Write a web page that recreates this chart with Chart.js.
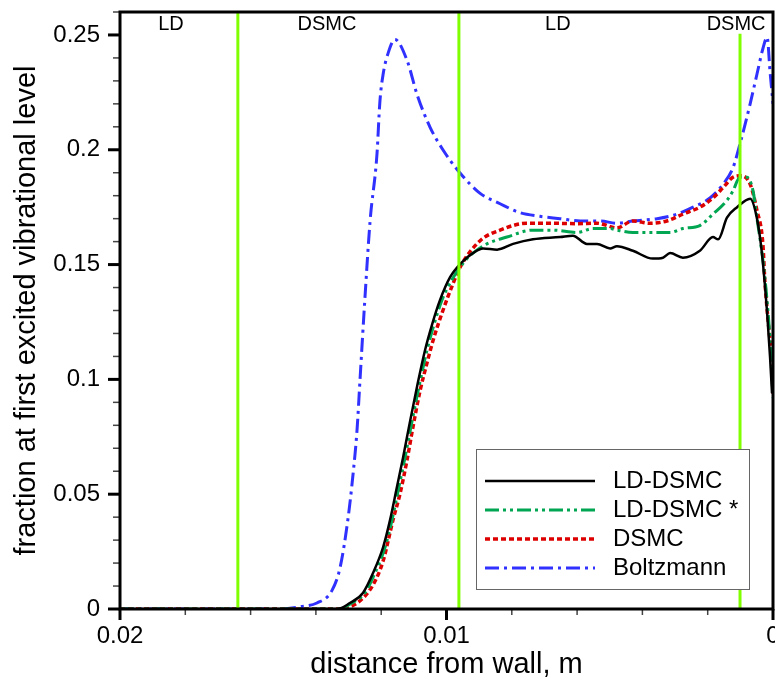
<!DOCTYPE html>
<html>
<head>
<meta charset="utf-8">
<script src="https://cdn.jsdelivr.net/npm/chart.js@4.4.1/dist/chart.umd.min.js"></script>
<style>
  html, body { margin: 0; padding: 0; background: #fff; }
</style>
</head>
<body>
<canvas id="fractionChart" width="775" height="683"></canvas>
<script>
// distance from wall (m) -> fraction at first excited vibrational level
const ldDsmcX = [0.02, 0.01335, 0.01296, 0.01256, 0.01225, 0.01194, 0.01173, 0.01152, 0.01133, 0.01112, 0.0109, 0.01066, 0.01044, 0.0102, 0.00989, 0.00953, 0.00919, 0.00888, 0.00845, 0.00796, 0.00735, 0.00652, 0.00613, 0.0057, 0.00539, 0.00499, 0.00478, 0.00429, 0.00368, 0.00337, 0.00315, 0.00276, 0.00224, 0.00184, 0.00168, 0.00141, 0.0011, 0.0007, 0.00049, 0.00034, 0.00018, 0.00009, 0.00003];
const ldDsmcY = [0, 0, 0.0026, 0.007, 0.0157, 0.027, 0.0387, 0.053, 0.066, 0.0815, 0.097, 0.1126, 0.124, 0.1345, 0.1445, 0.151, 0.155, 0.157, 0.1565, 0.159, 0.161, 0.162, 0.1626, 0.159, 0.159, 0.157, 0.158, 0.156, 0.1526, 0.153, 0.155, 0.153, 0.156, 0.162, 0.161, 0.1704, 0.175, 0.1787, 0.17, 0.155, 0.129, 0.1096, 0.094];

const ldDsmcStarX = [0.02, 0.0133, 0.0129, 0.0125, 0.01219, 0.01188, 0.01167, 0.01146, 0.01127, 0.01106, 0.01084, 0.0106, 0.01038, 0.01014, 0.00983, 0.00947, 0.00919, 0.00876, 0.00815, 0.00735, 0.00674, 0.006, 0.00551, 0.00499, 0.00478, 0.00429, 0.00377, 0.00315, 0.00276, 0.00224, 0.00184, 0.00141, 0.00123, 0.00101, 0.0008, 0.00061, 0.00049, 0.00031, 0.00018, 0.00009, 0.00003, 0];
const ldDsmcStarY = [0, 0, 0.0026, 0.007, 0.0157, 0.027, 0.0387, 0.053, 0.066, 0.0815, 0.097, 0.1126, 0.124, 0.1345, 0.1435, 0.151, 0.155, 0.159, 0.162, 0.165, 0.165, 0.164, 0.1657, 0.1657, 0.165, 0.164, 0.164, 0.164, 0.1657, 0.167, 0.172, 0.178, 0.182, 0.188, 0.188, 0.182, 0.17, 0.152, 0.134, 0.117, 0.1, 0.092];

const dsmcX = [0.02, 0.01335, 0.01274, 0.01225, 0.01194, 0.01164, 0.01142, 0.01121, 0.01103, 0.01081, 0.0106, 0.01041, 0.01011, 0.0098, 0.00959, 0.00897, 0.00836, 0.00753, 0.00674, 0.006, 0.00539, 0.00478, 0.00429, 0.00377, 0.00325, 0.00276, 0.00224, 0.00184, 0.00153, 0.00123, 0.00101, 0.0007, 0.00049, 0.00031, 0.00025, 0.00012, 0.00003, 0];
const dsmcY = [0, 0, 0.0026, 0.0105, 0.021, 0.0387, 0.0504, 0.0648, 0.079, 0.095, 0.107, 0.117, 0.13, 0.1417, 0.1487, 0.1604, 0.165, 0.168, 0.168, 0.1678, 0.168, 0.166, 0.169, 0.168, 0.169, 0.172, 0.175, 0.179, 0.1835, 0.188, 0.1887, 0.185, 0.1735, 0.159, 0.143, 0.121, 0.107, 0.093];

const boltzmannX = [0.02, 0.0151, 0.01449, 0.01397, 0.01351, 0.01326, 0.01302, 0.01286, 0.01274, 0.01265, 0.0125, 0.01234, 0.01213, 0.01204, 0.01194, 0.01179, 0.01158, 0.01121, 0.0109, 0.01051, 0.01011, 0.00965, 0.00897, 0.00836, 0.00775, 0.00714, 0.00652, 0.00591, 0.0053, 0.00478, 0.00429, 0.00355, 0.00294, 0.00245, 0.00193, 0.00153, 0.00123, 0.00101, 0.0007, 0.00049, 0.00031, 0.00018, 0.00009, 0];
const boltzmannY = [0, 0, 0.001, 0.0026, 0.008, 0.018, 0.039, 0.059, 0.078, 0.0996, 0.135, 0.169, 0.198, 0.221, 0.233, 0.242, 0.248, 0.239, 0.224, 0.21, 0.2, 0.191, 0.181, 0.1765, 0.1726, 0.171, 0.17, 0.169, 0.169, 0.168, 0.169, 0.17, 0.172, 0.175, 0.179, 0.185, 0.192, 0.2026, 0.22, 0.233, 0.244, 0.249, 0.234, 0.22];

// LD / DSMC zone boundaries and labels
const zoneEdges = [0.01639, 0.00962, 0.00101];
const zoneEdgeTops = [0.26, 0.26, 0.2505];
const zoneNames = ['LD', 'DSMC', 'LD', 'DSMC'];
const zoneNameX = [0.01844, 0.01366, 0.00659, 0.00113];

// tick labels
const xTickValues = [0.02, 0.01, 0];
const xTickLabels = ['0.02', '0.01', '0'];
const yTickValues = [0, 0.05, 0.1, 0.15, 0.2, 0.25];
const yTickLabels = ['0', '0.05', '0.1', '0.15', '0.2', '0.25'];

const FONT = '"Liberation Sans", Arial, sans-serif';

function pts(xs, ys) {
    return xs.map((x, i) => ({ x: x, y: ys[i] }));
}

function majorIndex(values, v) {
    return values.findIndex(m => Math.abs(m - v) < 1e-7);
}

document.addEventListener("DOMContentLoaded", function () {
    // ===============================
    // zone lines + names
    // ===============================
    const zonePlugin = {
        id: 'zones',
        afterDatasetsDraw(chart) {
            const { ctx, chartArea, scales } = chart;
            ctx.save();
            ctx.strokeStyle = '#80ff00';
            ctx.lineWidth = 3;
            zoneEdges.forEach((x, i) => {
                const px = scales.x.getPixelForValue(x);
                ctx.beginPath();
                ctx.moveTo(px, scales.y.getPixelForValue(0));
                ctx.lineTo(px, scales.y.getPixelForValue(zoneEdgeTops[i]));
                ctx.stroke();
            });
            ctx.fillStyle = '#000';
            ctx.font = '20px ' + FONT;
            ctx.textAlign = 'center';
            ctx.textBaseline = 'middle';
            zoneNames.forEach((name, i) => {
                ctx.fillText(name, scales.x.getPixelForValue(zoneNameX[i]), chartArea.top + 12);
            });
            ctx.restore();
        }
    };

    // ===============================
    // frame + major/minor tick marks
    // ===============================
    const framePlugin = {
        id: 'frame',
        afterDatasetsDraw(chart) {
            const { ctx, chartArea, scales } = chart;
            ctx.save();
            scales.x.ticks.forEach(t => {
                const px = scales.x.getPixelForValue(t.value);
                const major = majorIndex(xTickValues, t.value) >= 0;
                ctx.beginPath();
                ctx.lineWidth = major ? 3 : 1.5;
                ctx.strokeStyle = major ? '#000' : '#444';
                ctx.moveTo(px, chartArea.bottom);
                ctx.lineTo(px, chartArea.bottom + (major ? 11 : 6));
                ctx.stroke();
            });
            scales.y.ticks.forEach(t => {
                const py = scales.y.getPixelForValue(t.value);
                const major = majorIndex(yTickValues, t.value) >= 0;
                ctx.beginPath();
                ctx.lineWidth = major ? 3 : 1.5;
                ctx.strokeStyle = major ? '#000' : '#444';
                ctx.moveTo(chartArea.left, py);
                ctx.lineTo(chartArea.left - (major ? 12 : 7), py);
                ctx.stroke();
            });
            ctx.strokeStyle = '#000';
            ctx.lineWidth = 3;
            ctx.strokeRect(chartArea.left, chartArea.top, chartArea.right - chartArea.left, chartArea.bottom - chartArea.top);
            ctx.restore();
        }
    };

    // ===============================
    // boxed legend, lower right
    // ===============================
    const legendPlugin = {
        id: 'boxLegend',
        afterDraw(chart) {
            const ctx = chart.ctx;
            const bx = 476, by = 449, bw = 273, bh = 140;
            ctx.save();
            ctx.fillStyle = '#fff';
            ctx.fillRect(bx, by, bw, bh);
            ctx.strokeStyle = '#666';
            ctx.lineWidth = 1;
            ctx.strokeRect(bx + 0.5, by + 0.5, bw, bh);
            chart.data.datasets.forEach((ds, i) => {
                const y = by + 32 + i * 29;
                ctx.beginPath();
                ctx.setLineDash(ds.borderDash || []);
                ctx.lineWidth = ds.borderWidth;
                ctx.strokeStyle = ds.borderColor;
                ctx.moveTo(bx + 9, y);
                ctx.lineTo(bx + 119, y);
                ctx.stroke();
                ctx.setLineDash([]);
                ctx.fillStyle = '#000';
                ctx.font = '24px ' + FONT;
                ctx.textBaseline = 'middle';
                ctx.fillText(ds.label, bx + 137, y);
            });
            ctx.restore();
        }
    };

    const ctx = document.getElementById('fractionChart');
    new Chart(ctx.getContext('2d'), {
        type: 'line',
        data: {
            datasets: [{
                label: 'LD-DSMC',
                data: pts(ldDsmcX, ldDsmcY),
                borderColor: '#000000',
                borderWidth: 2.5
            }, {
                label: 'LD-DSMC *',
                data: pts(ldDsmcStarX, ldDsmcStarY),
                borderColor: '#00a651',
                borderWidth: 3,
                borderDash: [14, 4, 3, 4, 3, 4]
            }, {
                label: 'DSMC',
                data: pts(dsmcX, dsmcY),
                borderColor: '#dd0000',
                borderWidth: 3.5,
                borderDash: [5, 3]
            }, {
                label: 'Boltzmann',
                data: pts(boltzmannX, boltzmannY),
                borderColor: '#3030ff',
                borderWidth: 3,
                borderDash: [14, 5, 3, 5]
            }]
        },
        options: {
            responsive: false,
            animation: false,
            devicePixelRatio: 1,
            events: [],
            layout: { padding: { top: 12, right: 2, left: 0, bottom: 0 } },
            plugins: { legend: { display: false }, tooltip: { enabled: false } },
            elements: {
                point: { radius: 0 },
                line: { cubicInterpolationMode: 'monotone', borderCapStyle: 'butt' }
            },
            scales: {
                x: {
                    type: 'linear',
                    reverse: true,
                    min: 0,
                    max: 0.02,
                    border: { display: false },
                    grid: { display: false, drawTicks: false },
                    ticks: {
                        stepSize: 0.002,
                        autoSkip: false,
                        maxRotation: 0,
                        padding: 13,
                        color: '#000',
                        font: { family: FONT, size: 24 },
                        callback: v => {
                            const i = majorIndex(xTickValues, v);
                            return i >= 0 ? xTickLabels[i] : '';
                        }
                    },
                    title: {
                        display: true,
                        text: 'distance from wall, m',
                        color: '#000',
                        font: { family: FONT, size: 29 },
                        padding: { top: 0, bottom: 1 }
                    },
                    afterFit: s => { s.height = 74; s.paddingLeft = 0; s.paddingRight = 0; }
                },
                y: {
                    min: 0,
                    max: 0.26,
                    border: { display: false },
                    grid: { display: false, drawTicks: false },
                    ticks: {
                        stepSize: 0.01,
                        autoSkip: false,
                        padding: 20,
                        color: '#000',
                        font: { family: FONT, size: 24 },
                        callback: v => {
                            const i = majorIndex(yTickValues, v);
                            return i >= 0 ? yTickLabels[i] : '';
                        }
                    },
                    title: {
                        display: true,
                        text: 'fraction at first excited vibrational level',
                        color: '#000',
                        font: { family: FONT, size: 29 },
                        padding: { top: 10, bottom: 0 }
                    },
                    afterFit: s => { s.width = 120; s.paddingTop = 0; s.paddingBottom = 0; }
                }
            }
        },
        plugins: [zonePlugin, framePlugin, legendPlugin]
    });
});
</script>
</body>
</html>
